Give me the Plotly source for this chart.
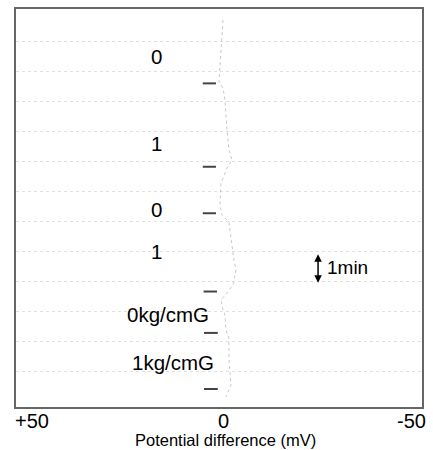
import plotly.graph_objects as go

# ---- data ----
# faint recorded potential trace (mV vs time in min, time runs downward)
trace_mv = [-0.98, 0.01, -0.98, -1.47, -1.96, -2.45, -3.19, -1.96, -0.48, -0.24, -0.24, -0.48, -0.73,
            -2.45, -2.95, -3.68, -4.18, -3.68, -3.43, -1.96, -0.48, -0.98, -1.47, -1.71, -2.45, -2.45,
            -2.70, -2.95, -1.71]
trace_t = [0.27, 2.33, 2.53, 2.93, 3.93, 4.6, 4.93, 5.2, 5.7, 6.27, 6.43, 6.6, 6.77,
           7.0, 7.6, 8.27, 8.6, 8.87, 9.1, 9.37, 9.6, 9.93, 10.1, 10.6, 10.87, 11.6,
           12.1, 12.43, 12.83]
# event marks (short bars) times and their x extent
event_t = [2.38, 5.16, 6.71, 9.32, 10.7, 12.57]
event_x0 = [4.0, 4.0, 4.0, 3.8, 3.7, 3.7]
event_x1 = [0.75, 0.75, 0.75, 0.5, 0.3, 0.3]
# pressure labels
label_text = ["0", "1", "0", "1", "0kg/cmG", "1kg/cmG"]
label_mv = [15.5, 15.5, 15.5, 15.5, 12.6, 11.3]
label_t = [1.5, 4.37, 6.57, 8.0, 10.07, 11.67]
# axis tick labels
tick_vals = [50, 0, -50]
tick_text = ["+50", "0", "-50"]
x_title = "Potential difference (mV)"
grid_t = list(range(1, 13))

fig = go.Figure()

fig.add_trace(go.Scatter(x=trace_mv, y=trace_t, mode="lines",
                         line=dict(color="#c8c8c8", width=1, dash="dot"),
                         hoverinfo="skip", showlegend=False))

ex, ey = [], []
for t, a, b in zip(event_t, event_x0, event_x1):
    ex += [a, b, None]
    ey += [t, t, None]
fig.add_trace(go.Scatter(x=ex, y=ey, mode="lines",
                         line=dict(color="#444444", width=2),
                         hoverinfo="skip", showlegend=False))

for txt, x, y in zip(label_text, label_mv, label_t):
    fig.add_annotation(x=x, y=y, text=txt, showarrow=False,
                       font=dict(size=20.5, color="black"), xanchor="center", yanchor="middle")

# 1 min double arrow
fig.add_annotation(x=-24.4, y=9.03, ax=-24.4, ay=8.03, xref="x", yref="y", axref="x", ayref="y",
                   text="", showarrow=True, arrowhead=2, arrowside="end+start",
                   arrowsize=1, arrowwidth=1.5, arrowcolor="black")
fig.add_annotation(x=-26.0, y=8.53, text="1min", showarrow=False, xanchor="left",
                   font=dict(size=19, color="black"))

# tick labels
anchors = ["left", "center", "right"]
shifts = [-3, 4, 6]
for v, t, a, s in zip(tick_vals, tick_text, anchors, shifts):
    fig.add_annotation(x=v, y=0, xref="x", yref="paper", yshift=-14, xshift=s, text=t,
                       showarrow=False, xanchor=a, yanchor="middle",
                       font=dict(size=20, color="black"))

# axis title
fig.add_annotation(x=0, y=0, xref="x", yref="paper", yshift=-33, xshift=6, text=x_title,
                   showarrow=False, xanchor="center", yanchor="middle",
                   font=dict(size=16.5, color="black"))

fig.update_xaxes(range=[50, -50], showticklabels=False, ticks="", showgrid=False,
                 zeroline=False, showline=True, mirror=True, linecolor="#666666", linewidth=1.5)
fig.update_yaxes(range=[13.17, -0.1], showticklabels=False, ticks="", tickvals=grid_t,
                 showgrid=True, gridcolor="#e0e0e0", griddash="dot", gridwidth=1,
                 zeroline=False, showline=True, mirror=True, linecolor="#666666", linewidth=1.5)

fig.update_layout(width=433, height=450, margin=dict(l=16, r=11, t=9, b=43, autoexpand=False),
                  paper_bgcolor="white", plot_bgcolor="white",
                  font=dict(family="Liberation Sans, Arial, sans-serif", color="black"))

fig.write_html("out.html")
